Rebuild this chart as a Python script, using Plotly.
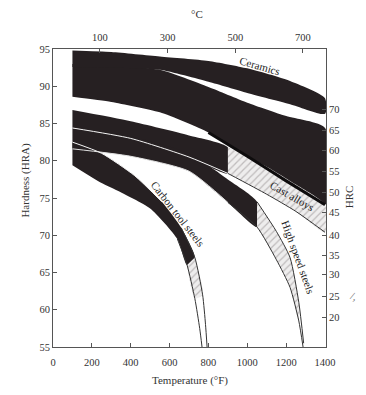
import plotly.graph_objects as go

# ---------------- data (temperature in °F, hardness in HRA) ----------------
ceramics_T  = [100, 300, 550, 800, 1000, 1220, 1400]
ceramics_hi = [94.8, 94.6, 94.0, 93.4, 92.4, 90.7, 88.4]
ceramics_lo = [92.6, 92.5, 92.2, 90.6, 89.1, 87.6, 86.3]

carbides_T  = [100, 300, 550, 800, 1000, 1200, 1400]
carbides_hi = [93.0, 92.8, 92.2, 89.9, 87.8, 86.0, 84.4]
carbides_lo = [88.6, 87.9, 86.5, 83.8, 80.6, 77.3, 74.1]

cast_T  = [100, 400, 700, 900, 1100, 1250, 1400]
cast_hi = [86.8, 85.3, 83.4, 81.8, 79.2, 76.8, 74.1]
cast_lo = [84.4, 83.0, 80.5, 78.3, 75.5, 73.2, 70.4]

hss_hi_T = [100, 400, 700, 900, 1050, 1150, 1220, 1265, 1290]
hss_hi   = [84.4, 83.3, 81.0, 77.5, 74.5, 70.5, 67.0, 61.0, 55.5]
hss_lo_T = [100, 400, 700, 900, 1050, 1150, 1220, 1265, 1287]
hss_lo   = [81.6, 80.6, 78.6, 74.4, 71.1, 66.7, 63.0, 58.5, 55.0]

carbon_hi_T = [100, 250, 420, 560, 660, 730, 770, 785, 793]
carbon_hi   = [82.5, 81.0, 78.0, 74.5, 71.0, 67.0, 62.0, 58.0, 55.0]
carbon_lo_T = [100, 250, 330, 500, 640, 690, 730, 755, 767]
carbon_lo   = [79.4, 77.0, 76.0, 73.6, 69.5, 66.0, 61.5, 57.5, 55.0]

# tick labels
f_ticks = [0, 200, 400, 600, 800, 1000, 1200, 1400]
c_ticks = [100, 300, 500, 700]
hra_ticks = [55, 60, 65, 70, 75, 80, 85, 90, 95]
hrc_labels = ["70", "65", "60", "55", "50", "45", "40", "35", "30", "25", "20"]
hrc_at_hra = [86.9, 84.1, 81.4, 78.6, 75.8, 73.1, 70.0, 67.3, 64.7, 61.8, 59.0]

DARK = "#262022"
SERIF = "Liberation Serif"
TXT = "#333333"

fig = go.Figure()


def band(tu, yu, tl, yl, color, pattern=None, start=0, end=None):
    end = len(tu) if end is None else end
    xs = list(tu[start:end]) + list(tl[start:end])[::-1]
    ys = list(yu[start:end]) + list(yl[start:end])[::-1]
    kw = dict(x=xs, y=ys, mode="lines", fill="toself", fillcolor=color,
              line=dict(width=0, color=color, shape="spline", smoothing=0.6),
              hoverinfo="skip", showlegend=False)
    if pattern:
        kw["fillpattern"] = pattern
    fig.add_trace(go.Scatter(**kw))


def edge(t, y, color, width=1, start=0, end=None):
    end = len(t) if end is None else end
    fig.add_trace(go.Scatter(x=t[start:end], y=y[start:end], mode="lines",
                             line=dict(color=color, width=width, shape="spline", smoothing=0.6),
                             hoverinfo="skip", showlegend=False))


hatch = dict(shape="/", fgcolor="#8f898b", bgcolor="#eeeded", size=5, solidity=0.25)

# carbides (big band) and ceramics on top
band(carbides_T, carbides_hi, carbides_T, carbides_lo, DARK)
band(ceramics_T, ceramics_hi, ceramics_T, ceramics_lo, DARK)

# cast alloys: dark at low temperature, hatched at high temperature
band(cast_T, cast_hi, cast_T, cast_lo, DARK, end=4)
band(cast_T, cast_hi, cast_T, cast_lo, "#eeeded", pattern=hatch, start=3)
edge(cast_T, cast_lo, "#333333", start=3)
edge(carbides_T, carbides_lo, "#0e0c0d", width=3, start=3)

# high-speed steels
band(hss_hi_T, hss_hi, hss_lo_T, hss_lo, DARK, end=5)
band(hss_hi_T, hss_hi, hss_lo_T, hss_lo, "#eeeded", pattern=hatch, start=4, end=8)
edge(hss_hi_T, hss_hi, "#333333", start=4)
edge(hss_lo_T, hss_lo, "#333333", start=3)

# carbon tool steels
band(carbon_hi_T, carbon_hi, carbon_lo_T, carbon_lo, DARK, end=6)
band(carbon_hi_T, carbon_hi, carbon_lo_T, carbon_lo, "#eeeded", pattern=hatch, start=5, end=7)
edge(carbon_hi_T, carbon_hi, "#333333", start=4)
edge(carbon_lo_T, carbon_lo, "#333333", start=4)

# white separating streaks inside the dark low-temperature region
edge(cast_T, cast_lo, "#f4f4f4", width=1, end=4)
edge(hss_lo_T, hss_lo, "#e0e0e0", width=1, end=4)
edge(carbon_hi_T, carbon_hi, "#f4f4f4", width=1, end=4)

# invisible trace for the secondary axes
fig.add_trace(go.Scatter(x=[300], y=[70], xaxis="x2", yaxis="y2", mode="markers",
                         marker=dict(opacity=0), hoverinfo="skip", showlegend=False))

axis_common = dict(showline=True, linecolor="#555555", linewidth=1, ticks="inside",
                   ticklen=4, tickcolor="#555555", showgrid=False, zeroline=False,
                   tickfont=dict(family=SERIF, size=10.5, color=TXT), fixedrange=True)

fig.update_layout(
    width=366, height=395,
    margin=dict(l=53, r=40, t=49, b=48),
    paper_bgcolor="white", plot_bgcolor="white",
    xaxis=dict(range=[0, 1405], tickvals=f_ticks, ticklabelstandoff=5, **axis_common),
    yaxis=dict(range=[55, 95], tickvals=hra_ticks, **axis_common),
    xaxis2=dict(range=[-38.9, 768], tickvals=c_ticks, overlaying="x", side="top",
                anchor="y", ticklabelstandoff=3, **axis_common),
    yaxis2=dict(range=[55, 95], tickvals=hrc_at_hra, ticktext=hrc_labels,
                overlaying="y", side="right", anchor="x", **axis_common),
)

for txt, x, y, size in [("Temperature (°F)", 0.502, -0.14, 11), ("°C", 0.527, 1.145, 11)]:
    fig.add_annotation(text=txt, x=x, y=y, xref="paper", yref="paper",
                       showarrow=False, font=dict(family=SERIF, size=size, color=TXT))
fig.add_annotation(text="Hardness (HRA)", x=-0.132, y=0.56, xref="paper", yref="paper",
                   textangle=-90, showarrow=False, font=dict(family=SERIF, size=11, color=TXT))
fig.add_annotation(text="HRC", x=1.114, y=0.503, xref="paper", yref="paper",
                   textangle=-90, showarrow=False, font=dict(family=SERIF, size=11, color=TXT))
fig.add_annotation(text="/,", x=1.13, y=0.14, xref="paper", yref="paper",
                   textangle=20, showarrow=False, font=dict(family=SERIF, size=11, color="#777"))

labels = [
    ("Ceramics", 1065, 92.7, 16),
    ("Cast alloys", 1230, 75.3, 30),
    ("High speed steels", 1262, 67.1, 70),
    ("Carbon tool steels", 643, 72.85, 52),
]
for txt, x, y, ang in labels:
    fig.add_annotation(text=txt, x=x, y=y, xref="x", yref="y", textangle=ang,
                       showarrow=False, font=dict(family=SERIF, size=11, color="#1e1e1e"))

fig.write_html("out.html")
